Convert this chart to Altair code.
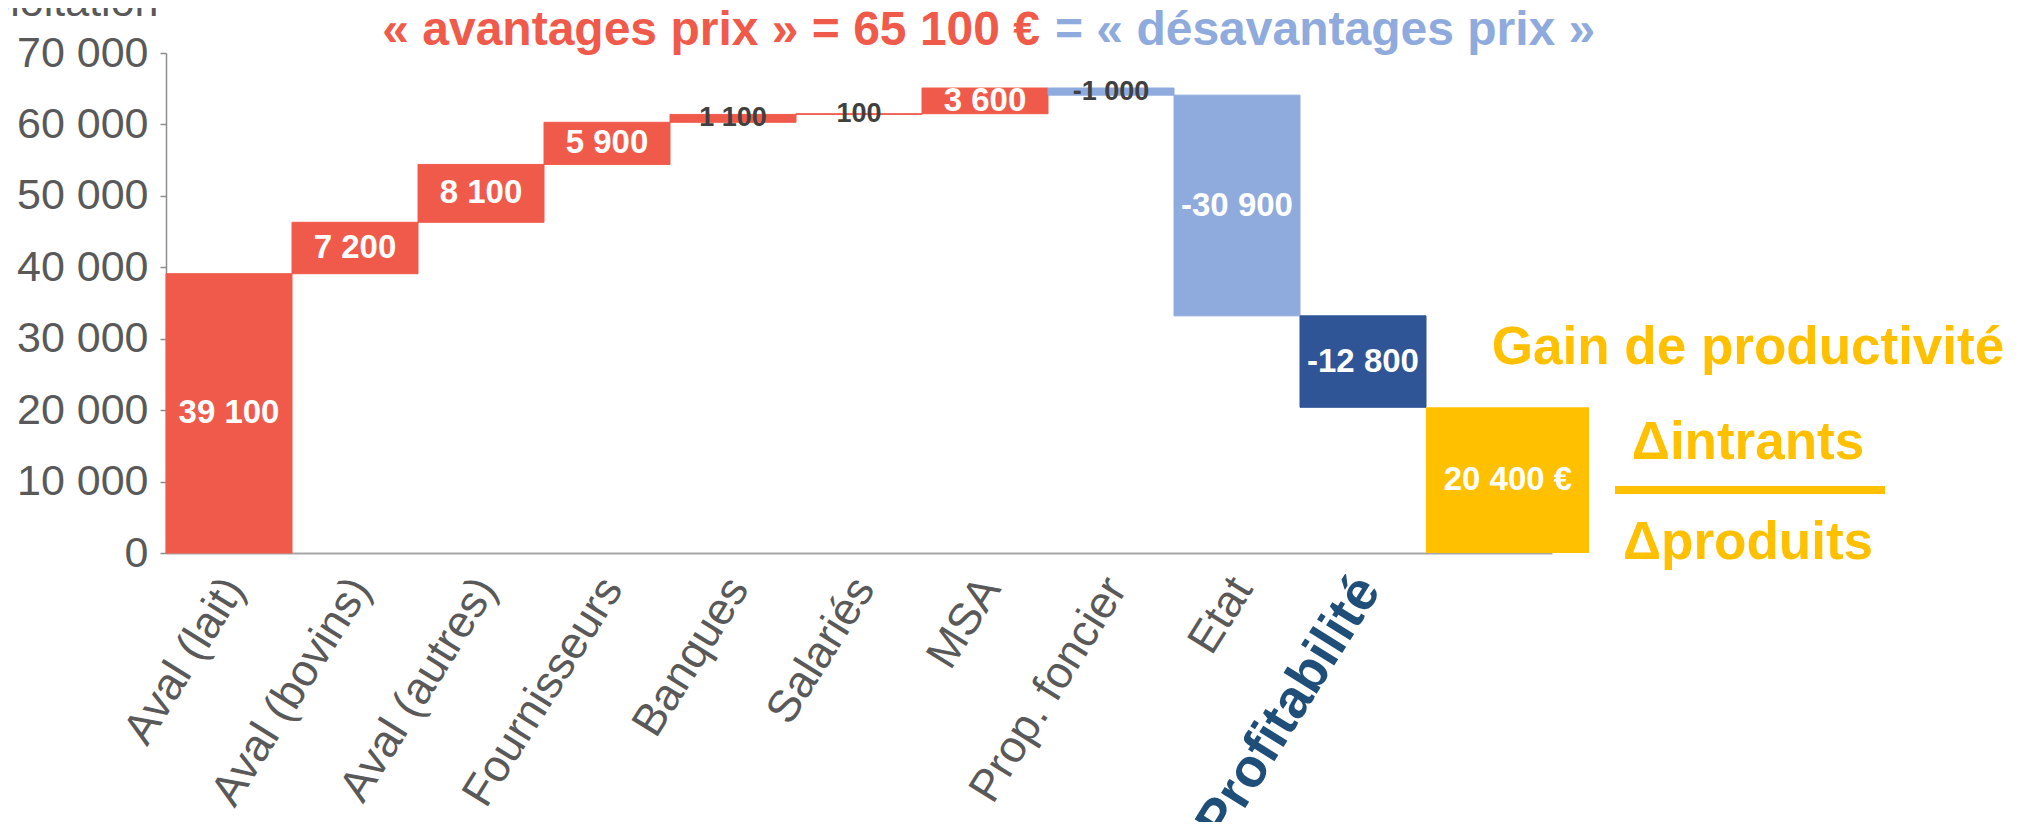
import altair as alt
import pandas as pd

FONT = "Liberation Sans"

# ---- data ----
categories = ["Aval (lait)", "Aval (bovins)", "Aval (autres)", "Fournisseurs", "Banques",
              "Salariés", "MSA", "Prop. foncier", "Etat", "Profitabilité", "Total"]
values = [39100, 7200, 8100, 5900, 1100, 100, 3600, -1000, -30900, -12800, 20400]
groups = ["avantage"] * 7 + ["désavantage"] * 2 + ["profitabilité", "total"]

y_ticks = [0, 10000, 20000, 30000, 40000, 50000, 60000, 70000]
y_title = "€ / exploitation"
title_red = "« avantages prix » = 65 100 €"
title_blue = "= « désavantages prix »"
side_title = "Gain de productivité"
side_num = "Δintrants"
side_den = "Δproduits"

# ---- waterfall positions ----
starts, ends, labels = [], [], []
run = 0
for g, v in zip(groups, values):
    if g == "total":
        starts.append(0)
        ends.append(v)
    else:
        starts.append(run)
        run += v
        ends.append(run)
    lab = f"{v:,}".replace(",", " ")
    if g == "total":
        lab += " €"
    labels.append(lab)

df = pd.DataFrame(dict(cat=categories, value=values, group=groups,
                       start=starts, end=ends, label=labels))
df["mid"] = (df["start"] + df["end"]) / 2

RED = "#F05A4B"
LBLUE = "#8FAADC"
DBLUE = "#2F5597"
YELLOW = "#FFC000"

cscale = alt.Scale(domain=["avantage", "désavantage", "profitabilité", "total"],
                   range=[RED, LBLUE, DBLUE, YELLOW])
xscale = alt.Scale(domain=categories, paddingInner=0, paddingOuter=0)
yscale = alt.Scale(domain=[0, 70000], nice=False)

is_prof = "datum.value === 'Profitabilité'"
xaxis = alt.Axis(
    title=None, ticks=False, labelAngle=-58, labelAlign="right", labelBaseline="middle",
    labelFont=FONT, labelPadding=28, labelOffset=5, labelLimit=1000, labelOverlap=False,
    labelExpr="datum.value === 'Total' ? '' : datum.value",
    labelFontSize={"condition": {"test": is_prof, "value": 54}, "value": 45},
    labelColor={"condition": {"test": is_prof, "value": "#1F4E79"}, "value": "#595959"},
    labelFontWeight={"condition": {"test": is_prof, "value": "bold"}, "value": "normal"},
    domainColor="#A6A6A6", domainWidth=2,
)
yaxis = alt.Axis(
    values=y_ticks, grid=False,
    labelExpr="replace(format(datum.value, ','), ',', ' ')",
    labelFont=FONT, labelFontSize=43, labelColor="#595959", labelPadding=12,
    tickSize=6, tickColor="#8C8C8C", tickWidth=1.5, domainColor="#8C8C8C", domainWidth=1.5,
    title=y_title, titleAngle=0, titleX=-8, titleY=-38, titleAlign="right",
    titleBaseline="alphabetic", titleFont=FONT, titleFontSize=43,
    titleFontWeight="normal", titleColor="#595959",
)

base = alt.Chart(df)

bars = base.transform_filter("datum.group !== 'total'").mark_bar(strokeWidth=1).encode(
    x=alt.X("cat:N", scale=xscale, axis=xaxis),
    y=alt.Y("start:Q", scale=yscale, axis=yaxis),
    y2="end:Q",
    color=alt.Color("group:N", scale=cscale, legend=None),
    stroke=alt.Stroke("group:N", scale=cscale, legend=None),
)

# the final bar starts at its band's left edge and is drawn wider than one band
total_bar = base.transform_filter("datum.group === 'total'").mark_bar(x2Offset=37).encode(
    x=alt.X("cat:N", bandPosition=0),
    x2=alt.X2("cat", bandPosition=1),
    y="start:Q",
    y2="end:Q",
    color=alt.Color("group:N", scale=cscale, legend=None),
)

small = "abs(datum.value) < 2000"
bar_text = base.transform_filter("datum.group !== 'total'").mark_text(
    font=FONT, fontWeight="bold", baseline="middle", align="center"
).encode(
    x="cat:N",
    y="mid:Q",
    text="label:N",
    color=alt.condition(small, alt.value("#404040"), alt.value("white")),
    size=alt.condition(small, alt.value(27), alt.value(33)),
)

total_text = base.transform_filter("datum.group === 'total'").mark_text(
    font=FONT, fontWeight="bold", baseline="middle", align="center", fontSize=33, color="white"
).encode(
    x=alt.X("cat:N", bandPosition=0.65),
    y="mid:Q",
    text="label:N",
)


def note(txt, x, y, color, size, align):
    return alt.Chart(pd.DataFrame({"t": [txt]})).mark_text(
        font=FONT, fontWeight="bold", fontSize=size, color=color,
        align=align, baseline="alphabetic"
    ).encode(x=alt.value(x), y=alt.value(y), text="t:N")


t_red = note(title_red, 874, -8, RED, 48, "right")
t_blue = note(title_blue, 889, -8, LBLUE, 48, "left")
s1 = note(side_title, 1582, 311, YELLOW, 53, "center")
s2 = note(side_num, 1582, 406, YELLOW, 53, "center")
s3 = note(side_den, 1582, 506, YELLOW, 53, "center")
frac = alt.Chart(pd.DataFrame({"t": [side_num]})).mark_rule(
    color=YELLOW, strokeWidth=8
).encode(x=alt.value(1449), x2=alt.value(1719), y=alt.value(437))

chart = alt.layer(
    bars, total_bar, bar_text, total_text, t_red, t_blue, s1, s2, s3, frac
).properties(
    width=1386, height=500,
    autosize=alt.AutoSizeParams(type="none"),
    padding={"left": 158, "top": 45, "right": 466, "bottom": 269},
).configure_view(strokeWidth=0)

chart.save("out.html", embed_options={"renderer": "svg", "actions": False})
